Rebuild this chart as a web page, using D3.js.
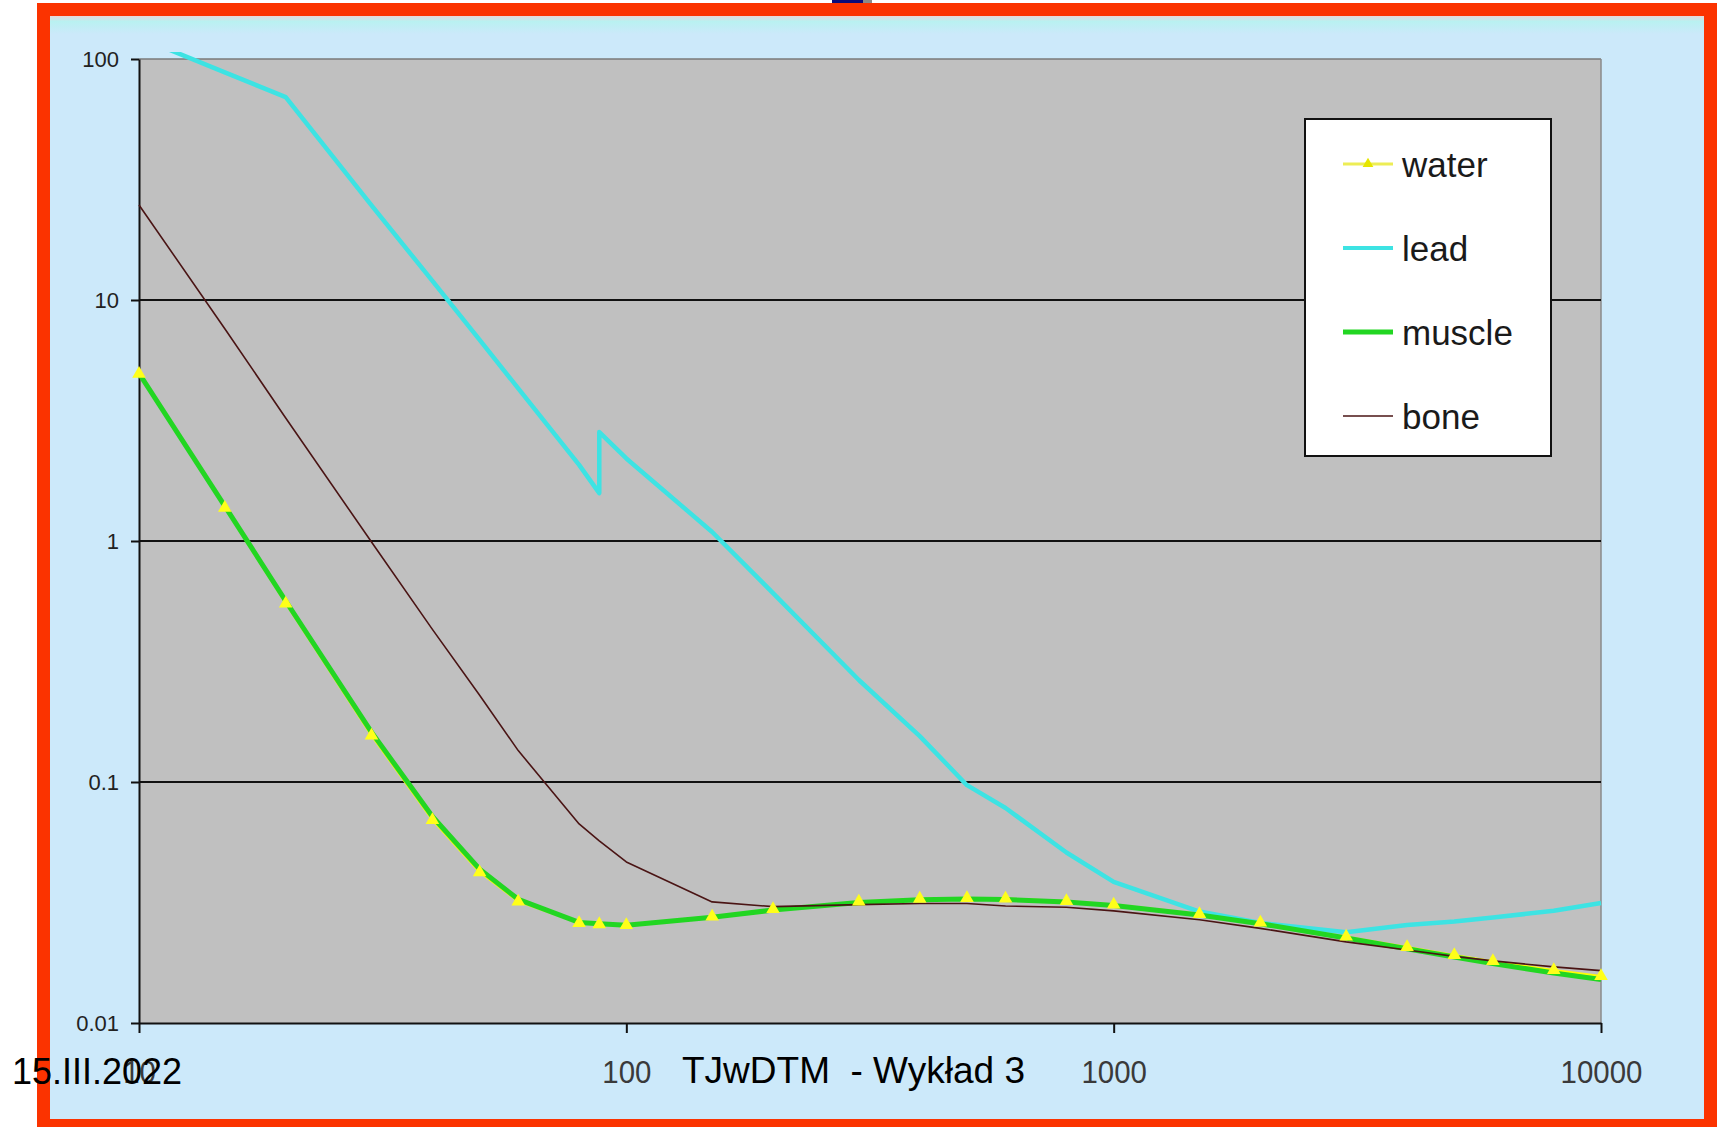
<!DOCTYPE html>
<html>
<head>
<meta charset="utf-8">
<script src="https://cdn.jsdelivr.net/npm/d3@7"></script>
<style>
body { margin: 0; background: #fff; }
svg { display: block; font-family: "Liberation Sans", Arial, sans-serif; }
</style>
</head>
<body>
<svg id="chart" width="1717" height="1127"></svg>
<script>
// energies in keV
var energies = [10, 15, 20, 30, 40, 50, 60, 80, 88, 100, 150, 200, 300, 400, 500, 600, 800, 1000, 1500, 2000, 3000, 4000, 5000, 6000, 8000, 10000];
// lead has the K edge at 88 keV, so two points there
var leadEnergies = [10, 15, 20, 30, 40, 50, 60, 80, 88, 88, 100, 150, 200, 300, 400, 500, 600, 800, 1000, 1500, 2000, 3000, 4000, 5000, 6000, 8000, 10000];

var water = [4.944, 1.374, 0.5503, 0.1557, 0.06947, 0.04223, 0.0319, 0.02597, 0.0257, 0.02546, 0.02764, 0.02967, 0.03192, 0.03279, 0.03299, 0.03284, 0.03206, 0.03103, 0.02833, 0.02608, 0.02281, 0.02066, 0.01915, 0.01806, 0.01658, 0.01566];
var lead = [123, 88, 69.5, 24.7, 12.0, 6.83, 4.3, 2.07, 1.58, 2.83, 2.2, 1.09, 0.608, 0.265, 0.155, 0.097, 0.078, 0.051, 0.0385, 0.029, 0.026, 0.0238, 0.0255, 0.0264, 0.0274, 0.0292, 0.0315];
var muscle = [4.964, 1.396, 0.5638, 0.161, 0.07192, 0.04349, 0.0326, 0.02615, 0.0258, 0.02544, 0.02745, 0.02942, 0.03164, 0.0325, 0.03269, 0.03254, 0.03177, 0.03075, 0.02808, 0.02582, 0.02253, 0.02034, 0.0188, 0.01766, 0.01612, 0.01514];
var bone = [24.8, 7.6, 3.24, 0.99, 0.43, 0.229, 0.135, 0.067, 0.057, 0.0466, 0.0318, 0.0304, 0.031, 0.0313, 0.0313, 0.0306, 0.0302, 0.0292, 0.0268, 0.0247, 0.0217, 0.0201, 0.0189, 0.0181, 0.0171, 0.0165];

var xTicks = [10, 100, 1000, 10000];
var yTicks = [0.01, 0.1, 1, 10, 100];
var gridValues = [0.1, 1, 10];
var seriesNames = ["water", "lead", "muscle", "bone"];

var plot = {left: 139, right: 1601, top: 59, bottom: 1023};
var colors = {water: "#ffff00", lead: "#3de3e3", muscle: "#22d622", bone: "#4a1414"};

var svg = d3.select("#chart");

// slide frame
svg.append("rect").attr("x", 832).attr("y", 0).attr("width", 31).attr("height", 3).attr("fill", "#0b0b7a");
svg.append("rect").attr("x", 863).attr("y", 0).attr("width", 9).attr("height", 3).attr("fill", "#8a8a8a");
svg.append("rect").attr("x", 37).attr("y", 3).attr("width", 1680).attr("height", 1124).attr("fill", "#fb3300");
var defs = svg.append("defs");
var grad = defs.append("linearGradient").attr("id", "topfade").attr("x1", 0).attr("y1", 0).attr("x2", 0).attr("y2", 1);
grad.append("stop").attr("offset", "0%").attr("stop-color", "#e8d8d8");
grad.append("stop").attr("offset", "30%").attr("stop-color", "#b9f1f1");
grad.append("stop").attr("offset", "100%").attr("stop-color", "#cce9fa");
svg.append("rect").attr("x", 50).attr("y", 16).attr("width", 1654).attr("height", 1103).attr("fill", "#cce9fa");
svg.append("rect").attr("x", 50).attr("y", 16).attr("width", 1654).attr("height", 18).attr("fill", "url(#topfade)");

var x = d3.scaleLog().domain([10, 10000]).range([plot.left, plot.right]);
var y = d3.scaleLog().domain([0.01, 100]).range([plot.bottom, plot.top]);

// plot area
svg.append("rect")
  .attr("x", plot.left).attr("y", plot.top)
  .attr("width", plot.right - plot.left).attr("height", plot.bottom - plot.top)
  .attr("fill", "#c0c0c0");
svg.append("line").attr("x1", plot.left).attr("x2", plot.right).attr("y1", y(100)).attr("y2", y(100))
  .attr("stroke", "#7a7a7a").attr("stroke-width", 1.5);
svg.append("line").attr("x1", plot.right).attr("x2", plot.right).attr("y1", plot.top).attr("y2", plot.bottom)
  .attr("stroke", "#8a8a8a").attr("stroke-width", 1.5);

svg.append("g").selectAll("line")
  .data(gridValues)
  .enter()
  .append("line")
  .attr("x1", plot.left).attr("x2", plot.right)
  .attr("y1", function(d) { return y(d); })
  .attr("y2", function(d) { return y(d); })
  .attr("stroke", "#111").attr("stroke-width", 2);

// axes
var xAxis = svg.append("g")
  .attr("transform", "translate(0," + plot.bottom + ")")
  .call(d3.axisBottom(x).tickValues(xTicks).tickFormat(function(d) { return String(d); }).tickSize(10).tickSizeOuter(0));
xAxis.selectAll("text")
  .attr("y", 60).attr("dy", 0)
  .attr("font-size", 32)
  .attr("fill", "#3a3a3a")
  .attr("transform", "scale(0.92,1)");

var yAxis = svg.append("g")
  .attr("transform", "translate(" + plot.left + ",0)")
  .call(d3.axisLeft(y).tickValues(yTicks).tickFormat(function(d) { return String(d); }).tickSize(8).tickSizeOuter(0).tickPadding(12));
yAxis.selectAll("text")
  .attr("font-size", 22)
  .attr("fill", "#222");

svg.selectAll(".domain").attr("stroke", "#111").attr("stroke-width", 2);
svg.selectAll(".tick line").attr("stroke", "#111").attr("stroke-width", 2);
svg.selectAll(".tick text").attr("font-family", "Liberation Sans, Arial, sans-serif");

// lines
defs.append("clipPath").attr("id", "clip")
  .append("rect").attr("x", plot.left - 2).attr("y", 52)
  .attr("width", plot.right - plot.left + 4).attr("height", plot.bottom - 52);

var line = d3.line()
  .x(function(d) { return x(d[0]); })
  .y(function(d) { return y(d[1]); });

var lines = svg.append("g").attr("clip-path", "url(#clip)");

function draw(es, vs, color, width) {
  lines.append("path")
    .datum(es.map(function(e, i) { return [e, vs[i]]; }))
    .attr("d", line)
    .attr("fill", "none")
    .attr("stroke", color)
    .attr("stroke-width", width)
    .attr("stroke-linejoin", "round");
}

draw(energies, water, colors.water, 2);
draw(leadEnergies, lead, colors.lead, 4.5);
draw(energies, muscle, colors.muscle, 5);
draw(energies, bone, colors.bone, 1.6);

// water markers
svg.append("g").selectAll("path")
  .data(energies)
  .enter()
  .append("path")
  .attr("d", d3.symbol().type(d3.symbolTriangle).size(80))
  .attr("transform", function(d, i) { return "translate(" + x(d) + "," + y(water[i]) + ")"; })
  .attr("fill", "#ffff1a");

// legend
var legend = svg.append("g");
legend.append("rect")
  .attr("x", 1305).attr("y", 119).attr("width", 246).attr("height", 337)
  .attr("fill", "#fff").attr("stroke", "#111").attr("stroke-width", 2);

var items = legend.selectAll("g.item")
  .data(seriesNames)
  .enter()
  .append("g")
  .attr("class", "item")
  .attr("transform", function(d, i) { return "translate(0," + (177 + i * 84) + ")"; });

items.append("line")
  .attr("x1", 1343).attr("x2", 1393)
  .attr("y1", -13).attr("y2", -13)
  .attr("stroke", function(d) { return d == "water" ? "#eded55" : colors[d]; })
  .attr("stroke-width", function(d) { return {water: 3, lead: 4, muscle: 5, bone: 1.6}[d]; });

items.filter(function(d) { return d == "water"; })
  .append("path")
  .attr("d", d3.symbol().type(d3.symbolTriangle).size(50))
  .attr("transform", "translate(1368,-13)")
  .attr("fill", "#e6e600");

items.append("text")
  .attr("x", 1402).attr("y", 0)
  .attr("font-size", 35)
  .attr("fill", "#1a1a1a")
  .text(function(d) { return d; });

// slide footer
svg.append("text")
  .attr("x", 12).attr("y", 1084)
  .attr("font-size", 36)
  .attr("fill", "#000")
  .text("15.III.2022");

svg.append("text")
  .attr("x", 682).attr("y", 1083)
  .attr("font-size", 37)
  .attr("fill", "#000")
  .text("TJwDTM  - Wykład 3")
  .style("white-space", "pre");
</script>
</body>
</html>
